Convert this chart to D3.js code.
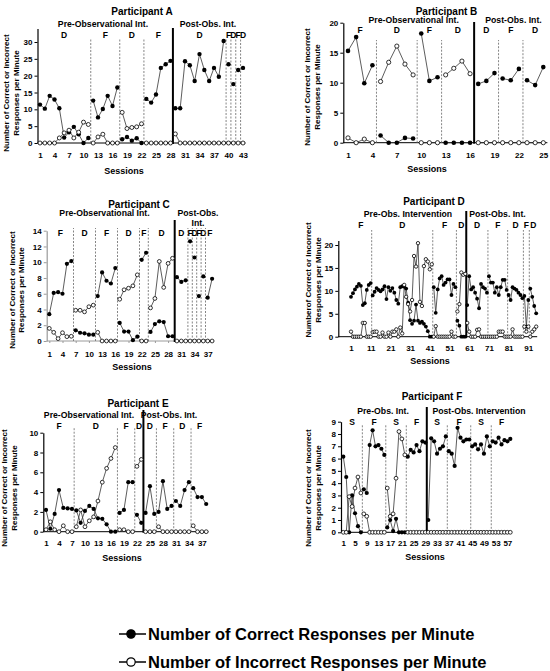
<!DOCTYPE html>
<html><head><meta charset="utf-8">
<script src="https://cdn.jsdelivr.net/npm/d3@7"></script>
<style>
body{margin:0;background:#fff}
svg{display:block}
</style>
</head><body>
<svg id="chart" width="550" height="671"></svg>
<script>
// ---------------- DATA ----------------
const correctA = [11.4, 10.2, 14.0, 12.9, 10.3, 1.6, 3.2, 4.8, 2.6, 0.0, 1.5, 12.6, 7.6, 10.1, 14.0, 11.0, 16.5, 1.1, 1.8, 0.7, 1.4, 0.0, 13.1, 12.0, 14.4, 22.3, 23.4, 24.4, 10.3, 10.3, 24.3, 23.1, 18.4, 26.4, 21.7, 18.4, 22.3, 19.7, 30.3, 23.4, 17.5, 21.7, 22.3];
const incorrectA = [0, 0, 0, 0, 1.5, 3.0, 3.8, 1.5, 3.2, 6.2, 5.5, 0, 1.8, 2.6, 0, 0, 0, 9.1, 4.3, 4.6, 4.8, 5.7, 0, 0, 0, 0, 0, 0, 2.7, 0, 0, 0, 0, 0, 0, 0, 0, 0, 0, 0, 0, 0, 0];
const phaseEndsA = [11, 17, 22, 28, 39, 40, 41, 42, 43];
const phaseNamesA = ["D", "F", "D", "F", "D", "F", "D", "F", "D"];
const splitA = 28;

const correctB = [15.3, 17.6, 9.9, 12.9, 1.2, 0, 0, 0.8, 0.7, 18.2, 10.3, 10.9, 0, 0, 0, 0, 9.8, 10.3, 11.6, 10.7, 10.4, 12.3, 10.4, 9.6, 12.6];
const incorrectB = [0.8, 0, 0.6, 0, 10.2, 13.4, 16.1, 13.1, 11.3, 0, 0, 0, 11.3, 12.4, 13.6, 11.5, 0, 0, 0, 0, 0, 0, 0, 0, 0];
const phaseEndsB = [4, 9, 12, 16, 19, 22, 25];
const phaseNamesB = ["F", "D", "F", "D", "D", "F", "D"];
const splitB = 16;

const correctC = [3.4, 6.1, 6.2, 6.0, 9.8, 10.15, 1.35, 1.05, 0.97, 0.8, 0.8, 5.7, 8.7, 7.65, 7.3, 9.25, 2.3, 1.2, 1.2, 0.1, 0.55, 10.3, 11.2, 1.15, 2.15, 2.5, 2.4, 0.6, 0.6, 8.1, 7.5, 7.7, 12.65, 10.6, 5.7, 8.2, 5.5, 7.9];
const incorrectC = [1.6, 1.1, 0.3, 1.05, 0.55, 0.6, 3.9, 3.9, 3.7, 4.35, 4.55, 1.1, 0, 0, 0, 0, 5.3, 6.5, 6.7, 7.0, 8.4, 0, 0, 4.2, 5.4, 10.1, 6.8, 9.85, 10.5, 0, 0, 0, 0, 0, 0, 0, 0, 0];
const phaseEndsC = [6, 11, 16, 21, 23, 29, 32, 33, 34, 35, 36, 38];
const phaseNamesC = ["F", "D", "F", "D", "F", "D", "D", "F", "D", "F", "D", "F"];
const splitC = 29;

const correctD = [8.7, 9.5, 10.3, 10.9, 11.5, 11.1, 6.9, 7.3, 10.2, 11.3, 11.7,
  9.0, 9.8, 10.6, 10.2, 9.9, 10.3, 11.0, 8.2, 10.8, 10.0, 10.6, 9.6, 8.0, 7.2, 10.8, 11.0, 10.9, 10.5, 7.4, 3.6, 2.8, 3.5, 7.0, 3.5, 3.0, 3.3, 2.8, 2.2, 1.2, 0, 0,
  10.8, 5.2, 10.3, 12.7, 13.2, 11.3, 11.8, 12.5, 12.5, 9.1, 11.5, 10.8,
  3.5, 2.4, 0, 0, 0,
  6.9, 13.2, 10.3, 10.8, 9.6, 8.3, 6.2, 11.5, 10.8, 10.5, 9.6,
  13.2, 11.8, 11.8, 9.6, 10.8, 9.1, 10.8, 12.4, 12.4, 10.2,
  9.1, 8.0, 10.8, 10.5, 10.2, 9.6, 9.1, 8.4,
  8.9, 2.2, 8.0,
  10.5, 8.7, 6.7, 5.1];
const incorrectD = [1.1, 0, 0, 0, 0, 0, 3.0, 3.0, 0, 0, 0,
  1.0, 1.1, 1.1, 0, 0, 0.9, 0, 0, 0.9, 0, 1.1, 1.1, 1.6, 0, 2.0, 0.7, 11.3, 8.7, 7.1, 5.5, 8.0, 17.6, 15.3, 20.4, 7.6, 6.7, 15.4, 16.9, 16.4, 14.7, 15.8,
  0, 2.3, 0, 0, 0, 0, 0, 0, 0, 1.1, 0, 0,
  5.5, 7.1, 14.0, 13.5, 13.7,
  3.0, 1.1, 0, 0, 0, 1.5, 1.6, 0, 0, 0, 0,
  0, 0, 0, 0, 0, 1.1, 1.1, 1.1, 0, 0,
  0, 0, 1.6, 0, 0, 0, 0, 0,
  2.2, 1.1, 2.2,
  0, 1.1, 1.6, 2.2];
const phaseEndsD = [11, 42, 54, 59, 70, 80, 88, 91, 95];
const phaseNamesD = ["F", "D", "F", "D", "D", "F", "D", "F", "D"];
const splitD = 59;

const correctE = [2.2, 0.3, 1.8, 4.2, 2.4, 2.35, 2.3, 2.15, 0.9, 2.1, 2.6, 2.3, 1.35, 1.3, 0.75, 0, 0, 1.9, 2.2, 5.0, 5.0, 1.7, 0.9, 1.9, 4.6, 1.8, 2.0, 5.1, 2.3, 2.6, 3.1, 2.6, 4.2, 5.0, 4.4, 3.5, 3.5, 2.8];
const incorrectE = [0.2, 1.0, 0.2, 0, 0.6, 0, 0, 0.5, 2.2, 0.5, 1.1, 1.5, 3.1, 5.0, 6.4, 7.4, 8.5, 0.2, 0.2, 0, 0, 6.6, 7.3, 0, 0, 0, 0.5, 0, 0, 0, 0, 0, 0, 0, 0.6, 0, 0, 0];
const phaseEndsE = [7, 17, 21, 23, 26, 30, 34, 38];
const phaseNamesE = ["F", "D", "F", "D", "D", "F", "D", "F"];
const splitE = 23;

const correctF = [6.15, 4.5, 0, 3.0, 1.55, 0.5, 0, 3.5, 3.2, 7.1, 8.3, 7.0, 7.1, 6.8, 6.3, 0.4, 1.0, 0.1, 1.1, 0, 0, 0, 6.15, 6.7, 6.5, 7.1, 6.6, 7.4, 7.3, 1.0, 7.65, 7.4, 6.4, 6.8, 7.0, 7.8, 6.6, 6.4, 5.4, 8.5, 7.7, 7.4, 7.55, 7.55, 7.0, 7.15, 6.75, 7.15, 6.4, 7.8, 7.0, 7.4, 7.3, 7.7, 7.15, 7.5, 7.4, 7.6];
const incorrectF = [0, 0, 2.9, 2.1, 3.6, 4.5, 3.2, 1.5, 1.3, 0, 0, 0, 0, 0, 0, 3.6, 1.3, 1.5, 4.4, 8.2, 7.6, 6.3, 0, 0, 0, 0, 0, 0, 0, 0, 0, 0, 0, 0, 0, 0, 0, 0, 0, 0, 0, 0, 0, 0, 0, 0, 0, 0, 0, 0, 0, 0, 0, 0, 0, 0, 0, 0];
const phaseEndsF = [7, 15, 22, 29, 36, 44, 51, 58];
const phaseNamesF = ["S", "F", "S", "F", "S", "F", "S", "F"];
const splitF = 29;

const xTicksA = [1, 4, 7, 10, 13, 16, 19, 22, 25, 28, 31, 34, 37, 40, 43];
const xTicksB = [1, 4, 7, 10, 13, 16, 19, 22, 25];
const xTicksC = [1, 4, 7, 10, 13, 16, 19, 22, 25, 28, 31, 34, 37];
const xTicksD = [1, 11, 21, 31, 41, 51, 61, 71, 81, 91];
const xTicksE = [1, 4, 7, 10, 13, 16, 19, 22, 25, 28, 31, 34, 37];
const xTicksF = [1, 5, 9, 13, 17, 21, 25, 29, 33, 37, 41, 45, 49, 53, 57];
const yTicksA = [0, 5, 10, 15, 20, 25, 30];
const yTicksB = [0, 5, 10, 15, 20];
const yTicksC = [0, 2, 4, 6, 8, 10, 12, 14];
const yTicksD = [0, 5, 10, 15, 20];
const yTicksE = [0, 2, 4, 6, 8, 10];
const yTicksF = [0, 1, 2, 3, 4, 5, 6, 7, 8, 9];

const titles = ["Participant A", "Participant B", "Participant C", "Participant D", "Participant E", "Participant F"];
const preLabels = ["Pre-Observational Int.", "Pre-Observational Int.", "Pre-Observational Int.", "Pre-Obs. Intervention", "Pre-Observational Int.", "Pre-Obs. Int."];
const postLabels = [["Post-Obs. Int."], ["Post-Obs. Int."], ["Post-Obs.", "Int."], ["Post-Obs. Int."], ["Post-Obs. Int."], ["Post-Obs. Intervention"]];
const yLabelStd = ["Number of Correct or Incorrect", "Responses per Minute"];
const yLabelD = ["Numberof Correct or Incorrect", "Responses per Minute"];
const xLabel = "Sessions";
const legendLabels = ["Number of Correct Responses per Minute", "Number of Incorrect Responses per Minute"];

// ---------------- LAYOUT ----------------
const FONT = "'Liberation Sans', Arial, Helvetica, sans-serif";
const panels = [
  {correct: correctA, incorrect: incorrectA, ends: phaseEndsA, names: phaseNamesA, split: splitA, xTicks: xTicksA, yTicks: yTicksA, ylab: yLabelStd,
   L: {x1: 40, xN: 243, yAxisX: 37.5, y0: 143, yRef: 30, yRefPx: 42, yMax: 34, titleX: 142, titleY: 11, preX: 103, postX: 208, subY: 24, postY: [24], phaseY: 35, dashTop: 38, solidTop: 28, xTickY: 155, sessX: 124, sessY: 171, ylx: [8.5, 18.5], yly: 93, r: 2.2}},
  {correct: correctB, incorrect: incorrectB, ends: phaseEndsB, names: phaseNamesB, split: splitB, xTicks: xTicksB, yTicks: yTicksB, ylab: yLabelStd,
   L: {x1: 348, xN: 543.3, yAxisX: 343.3, y0: 142.7, yRef: 20, yRefPx: 22.7, yMax: 20, titleX: 446.5, titleY: 11, preX: 413.7, postX: 513.5, subY: 20, postY: [20], phaseY: 30, dashTop: 40, solidTop: 22, xTickY: 155, sessX: 427, sessY: 169, ylx: [309.5, 319.5], yly: 87, r: 2.3}},
  {correct: correctC, incorrect: incorrectC, ends: phaseEndsC, names: phaseNamesC, split: splitC, xTicks: xTicksC, yTicks: yTicksC, ylab: yLabelStd,
   L: {x1: 49.3, xN: 212.1, yAxisX: 46.7, y0: 341, yRef: 14, yRefPx: 230.7, yMax: 14, titleX: 139, titleY: 204, preX: 104.5, postX: 198, subY: 213, postY: [213, 223], phaseY: 233, dashTop: 228, solidTop: 220, xTickY: 354, sessX: 132, sessY: 367, ylx: [14.5, 23.5], yly: 290, r: 2.1, axisColor: "#9a9a9a", xTickSize: 2}},
  {correct: correctD, incorrect: incorrectD, ends: phaseEndsD, names: phaseNamesD, split: splitD, xTicks: xTicksD, yTicks: yTicksD, ylab: yLabelD,
   L: {x1: 351, xN: 536.2, yAxisX: 338.3, y0: 336.7, yRef: 20, yRefPx: 245, yMax: 21, titleX: 434, titleY: 201.7, preX: 408, postX: 497.5, subY: 214, postY: [214], phaseY: 225, dashTop: 230, solidTop: 211, xTickY: 348, sessX: 430, sessY: 361, ylx: [311, 321], yly: 280, r: 1.9}},
  {correct: correctE, incorrect: incorrectE, ends: phaseEndsE, names: phaseNamesE, split: splitE, xTicks: xTicksE, yTicks: yTicksE, ylab: yLabelStd,
   L: {x1: 46, xN: 206.2, yAxisX: 43.3, y0: 531.7, yRef: 10, yRefPx: 432.7, yMax: 10, titleX: 138, titleY: 403, preX: 89, postX: 169, subY: 415, postY: [415], phaseY: 426, dashTop: 428, solidTop: 410, xTickY: 543, sessX: 122, sessY: 558, ylx: [7, 17], yly: 488, r: 2.1}},
  {correct: correctF, incorrect: incorrectF, ends: phaseEndsF, names: phaseNamesF, split: splitF, xTicks: xTicksF, yTicks: yTicksF, ylab: yLabelStd,
   L: {x1: 343.3, xN: 510.3, yAxisX: 341, y0: 532.3, yRef: 9, yRefPx: 421.7, yMax: 9, titleX: 432, titleY: 396, preX: 383, postX: 479, subY: 410.7, postY: [410.7], phaseY: 421.7, dashTop: 425, solidTop: 407, xTickY: 543, sessX: 425, sessY: 557, ylx: [311, 321], yly: 488, r: 2.1}}
];

const svg = d3.select("#chart");
svg.append("rect").attr("width", 550).attr("height", 671).attr("fill", "#fff");

function txt(g, x, y, s, size, anchor) {
  return g.append("text").attr("x", x).attr("y", y).attr("font-family", FONT).attr("font-weight", "bold")
    .attr("font-size", size).attr("text-anchor", anchor || "middle").attr("dominant-baseline", "central")
    .attr("fill", "#000").text(s);
}

panels.forEach((p, pi) => {
  const L = p.L;
  const n = p.correct.length;
  const g = svg.append("g");
  const x = d3.scaleLinear().domain([1, n]).range([L.x1, L.xN]);
  const yTopPx = L.y0 - (L.yMax / L.yRef) * (L.y0 - L.yRefPx);
  const y = d3.scaleLinear().domain([0, L.yMax]).range([L.y0, yTopPx]);
  const ac = L.axisColor || "#000";

  // y axis
  const ya = g.append("g").attr("transform", `translate(${L.yAxisX},0)`)
    .call(d3.axisLeft(y).tickValues(p.yTicks).tickSize(3).tickSizeOuter(0).tickPadding(2).tickFormat(d3.format("d")));
  ya.attr("font-family", FONT).attr("font-size", 8).attr("font-weight", "bold");
  ya.select(".domain").attr("stroke", ac).attr("stroke-width", 1.2);
  ya.selectAll(".tick line").attr("stroke", ac);
  ya.selectAll(".tick text").attr("fill", "#000");

  // x axis
  const xa = g.append("g").attr("transform", `translate(0,${L.y0})`)
    .call(d3.axisBottom(x).tickValues(p.xTicks).tickSize(L.xTickSize || 0).tickSizeOuter(0));
  xa.attr("font-family", FONT).attr("font-size", 8).attr("font-weight", "bold");
  xa.select(".domain").remove();
  xa.selectAll(".tick line").attr("stroke", ac);
  xa.selectAll(".tick text").attr("fill", "#000").attr("y", L.xTickY - L.y0).attr("dy", "0.35em");
  g.append("line").attr("x1", L.yAxisX).attr("x2", x(n + 0.5)).attr("y1", L.y0).attr("y2", L.y0)
    .attr("stroke", ac).attr("stroke-width", 1);

  // titles
  txt(g, L.titleX, L.titleY, titles[pi], 10);
  txt(g, L.preX, L.subY, preLabels[pi], 8.7);
  postLabels[pi].forEach((s, i) => txt(g, L.postX, L.postY[i], s, 8.7));
  txt(g, L.sessX, L.sessY, xLabel, 9);

  // y label
  p.ylab.forEach((s, i) => {
    g.append("text").attr("transform", `translate(${L.ylx[i]},${L.yly}) rotate(-90)`)
      .attr("font-family", FONT).attr("font-weight", "bold").attr("font-size", 8)
      .attr("text-anchor", "middle").attr("fill", "#000").text(s);
  });

  // phases
  const line = d3.line().x(d => x(d[0])).y(d => y(d[1]));
  let start = 1;
  const segs = [];
  p.ends.forEach((end, i) => {
    txt(g, x((start + end) / 2), L.phaseY, p.names[i], 8.5);
    if (i < p.ends.length - 1) {
      const bx = x(end + 0.5);
      if (end === p.split) {
        g.append("line").attr("x1", bx).attr("x2", bx).attr("y1", L.y0 + 1).attr("y2", L.solidTop)
          .attr("stroke", "#000").attr("stroke-width", 2);
      } else {
        g.append("line").attr("x1", bx).attr("x2", bx).attr("y1", L.y0).attr("y2", L.dashTop)
          .attr("stroke", "#777").attr("stroke-width", 0.9).attr("stroke-dasharray", "2,1.5");
      }
    }
    segs.push([start, end]);
    start = end + 1;
  });

  [p.correct, p.incorrect].forEach((series, si) => {
    segs.forEach(([a, b]) => {
      const pts = d3.range(a, b + 1).map(s => [s, series[s - 1]]);
      g.append("path").attr("d", line(pts)).attr("fill", "none").attr("stroke", "#333").attr("stroke-width", 0.8);
    });
  });
  g.append("g").selectAll("circle").data(p.correct).join("circle")
    .attr("cx", (d, i) => x(i + 1)).attr("cy", d => y(d)).attr("r", L.r).attr("fill", "#000");
  g.append("g").selectAll("circle").data(p.incorrect).join("circle")
    .attr("cx", (d, i) => x(i + 1)).attr("cy", d => y(d)).attr("r", L.r - 0.2)
    .attr("fill", "#fff").attr("stroke", "#000").attr("stroke-width", 0.8);
});

// legend
const leg = svg.append("g");
const legY = [634, 662];
legendLabels.forEach((s, i) => {
  leg.append("line").attr("x1", 119).attr("x2", 146).attr("y1", legY[i]).attr("y2", legY[i]).attr("stroke", "#000").attr("stroke-width", 1.5);
  leg.append("circle").attr("cx", 131).attr("cy", legY[i]).attr("r", 4.2)
    .attr("fill", i === 0 ? "#000" : "#fff").attr("stroke", "#000").attr("stroke-width", 1.2);
  txt(leg, 148, legY[i], s, 16.5, "start");
});
</script>
</body></html>
